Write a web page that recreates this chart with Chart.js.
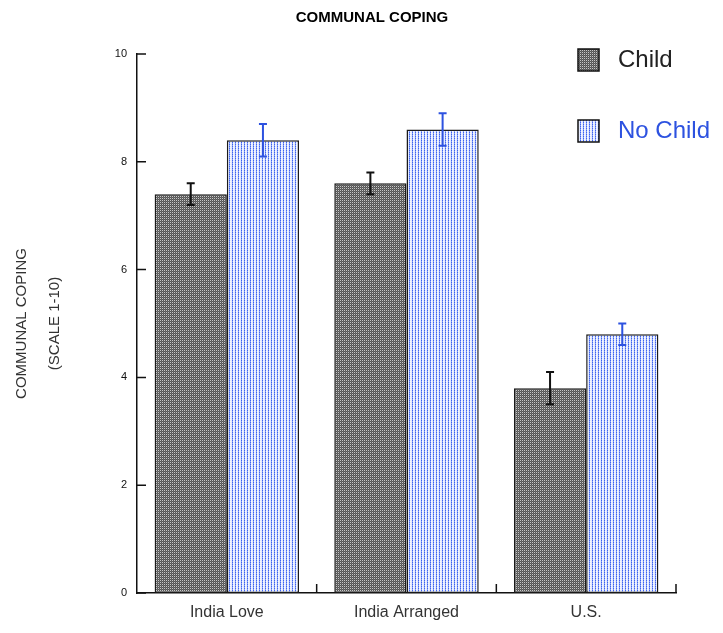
<!DOCTYPE html>
<html>
<head>
<meta charset="utf-8">
<script src="https://cdn.jsdelivr.net/npm/chart.js@4"></script>
<style>
  html, body { margin: 0; padding: 0; background: #fff; }
  #wrap { width: 723px; height: 633px; }
</style>
</head>
<body>
<div id="wrap"><canvas id="copingChart" width="723" height="633"></canvas></div>
<script>
const groups = ["India Love", "India Arranged", "U.S."];
const seriesNames = ["Child", "No Child"];
const childMeans = [7.4, 7.6, 3.8];
const childErr = [0.2, 0.2, 0.3];
const noChildMeans = [8.4, 8.6, 4.8];
const noChildErr = [0.3, 0.3, 0.2];
const yTicks = [0, 2, 4, 6, 8, 10];

function makePattern(w, h, paint) {
    let c = document.createElement('canvas');
    c.width = w; c.height = h;
    let g = c.getContext('2d');
    paint(g);
    return g.createPattern(c, 'repeat');
}

// grey dotted fill for "Child"
let childFill = makePattern(2, 2, function (g) {
    g.fillStyle = '#555555'; g.fillRect(0, 0, 2, 2);
    g.fillStyle = '#c8c8c8'; g.fillRect(0, 0, 1, 1);
    g.fillStyle = '#6c6c6c'; g.fillRect(1, 1, 1, 1);
});
// blue dots in columns for "No Child"
let noChildFill = makePattern(3, 2, function (g) {
    g.fillStyle = '#e4eafe'; g.fillRect(0, 0, 3, 2);
    g.fillStyle = '#3d63f0'; g.fillRect(1, 0, 1, 1);
    g.fillStyle = '#8aa2f5'; g.fillRect(1, 1, 1, 1);
    g.fillStyle = '#f8faff'; g.fillRect(2, 1, 1, 1);
});

const errColors = ['#111111', '#2d52e0'];
const errValues = [childErr, noChildErr];

const decorPlugin = {
    id: 'decor',
    afterDatasetsDraw(chart) {
        const ctx = chart.ctx;
        const x = chart.scales.x, y = chart.scales.y;
        ctx.save();
        // error bars
        chart.data.datasets.forEach(function (ds, di) {
            const meta = chart.getDatasetMeta(di);
            meta.data.forEach(function (bar, i) {
                const v = ds.data[i], e = errValues[di][i];
                const yt = y.getPixelForValue(v + e), yb = y.getPixelForValue(v - e);
                ctx.strokeStyle = errColors[di];
                ctx.lineWidth = 2;
                ctx.beginPath();
                ctx.moveTo(bar.x, yt); ctx.lineTo(bar.x, yb);
                ctx.moveTo(bar.x - 4, yt); ctx.lineTo(bar.x + 4, yt);
                ctx.moveTo(bar.x - 4, yb); ctx.lineTo(bar.x + 4, yb);
                ctx.stroke();
            });
        });
        // inward tick marks
        ctx.strokeStyle = '#111';
        ctx.lineWidth = 1.5;
        ctx.beginPath();
        yTicks.forEach(function (t) {
            const py = y.getPixelForValue(t);
            ctx.moveTo(x.left, py); ctx.lineTo(x.left + 9, py);
        });
        const half = (x.getPixelForValue(1) - x.getPixelForValue(0)) / 2;
        groups.forEach(function (g, i) {
            const px = x.getPixelForValue(i) + half;
            ctx.moveTo(px, y.bottom); ctx.lineTo(px, y.bottom - 9);
        });
        ctx.stroke();
        // title
        ctx.fillStyle = '#000';
        ctx.font = 'bold 15px "Liberation Sans", Arial, sans-serif';
        ctx.textAlign = 'center';
        ctx.textBaseline = 'middle';
        ctx.fillText('COMMUNAL COPING', 372, 18);
        // legend
        const fills = [childFill, noChildFill];
        const textColors = ['#222', '#2d52e0'];
        const rows = [60, 131];
        ctx.font = '24px "Liberation Sans", Arial, sans-serif';
        ctx.textAlign = 'left';
        seriesNames.forEach(function (name, i) {
            ctx.fillStyle = fills[i];
            ctx.fillRect(578, rows[i] - 11, 21, 22);
            ctx.strokeStyle = '#111';
            ctx.lineWidth = 1.5;
            ctx.strokeRect(578, rows[i] - 11, 21, 22);
            ctx.fillStyle = textColors[i];
            ctx.fillText(name, 618, rows[i]);
        });
        ctx.restore();
    }
};

new Chart(document.getElementById('copingChart').getContext('2d'), {
    type: 'bar',
    data: {
        labels: groups,
        datasets: [{
            label: seriesNames[0],
            data: childMeans,
            backgroundColor: childFill,
            borderColor: '#1a1a1a',
            borderWidth: 1.5,
            borderSkipped: false,
            categoryPercentage: 0.804,
            barPercentage: 1.0
        }, {
            label: seriesNames[1],
            data: noChildMeans,
            backgroundColor: noChildFill,
            borderColor: '#1a1a1a',
            borderWidth: 1.5,
            borderSkipped: false,
            categoryPercentage: 0.804,
            barPercentage: 1.0
        }]
    },
    options: {
        responsive: false,
        animation: false,
        layout: { padding: { top: 54, right: 47, left: 0, bottom: 0 } },
        plugins: {
            legend: { display: false },
            title: { display: false },
            tooltip: { enabled: false }
        },
        scales: {
            x: {
                grid: { display: false, drawTicks: false },
                border: { display: true, color: '#111', width: 1.5 },
                ticks: {
                    padding: 10,
                    color: '#333',
                    font: { family: '"Liberation Sans", Arial, sans-serif', size: 16 }
                },
                afterFit: function (s) { s.height = 40; }
            },
            y: {
                min: 0,
                max: 10,
                grid: { display: false, drawTicks: false },
                border: { display: true, color: '#111', width: 1.5 },
                ticks: {
                    stepSize: 2,
                    padding: 10,
                    color: '#111',
                    font: { family: '"Liberation Sans", Arial, sans-serif', size: 11 }
                },
                title: {
                    display: true,
                    text: ['COMMUNAL COPING', '(SCALE 1-10)'],
                    color: '#333',
                    padding: { top: 5, bottom: 0 },
                    font: { family: '"Liberation Sans", Arial, sans-serif', size: 15, lineHeight: 2.2 }
                },
                afterFit: function (s) { s.width = 137; }
            }
        }
    },
    plugins: [decorPlugin]
});
</script>
</body>
</html>
